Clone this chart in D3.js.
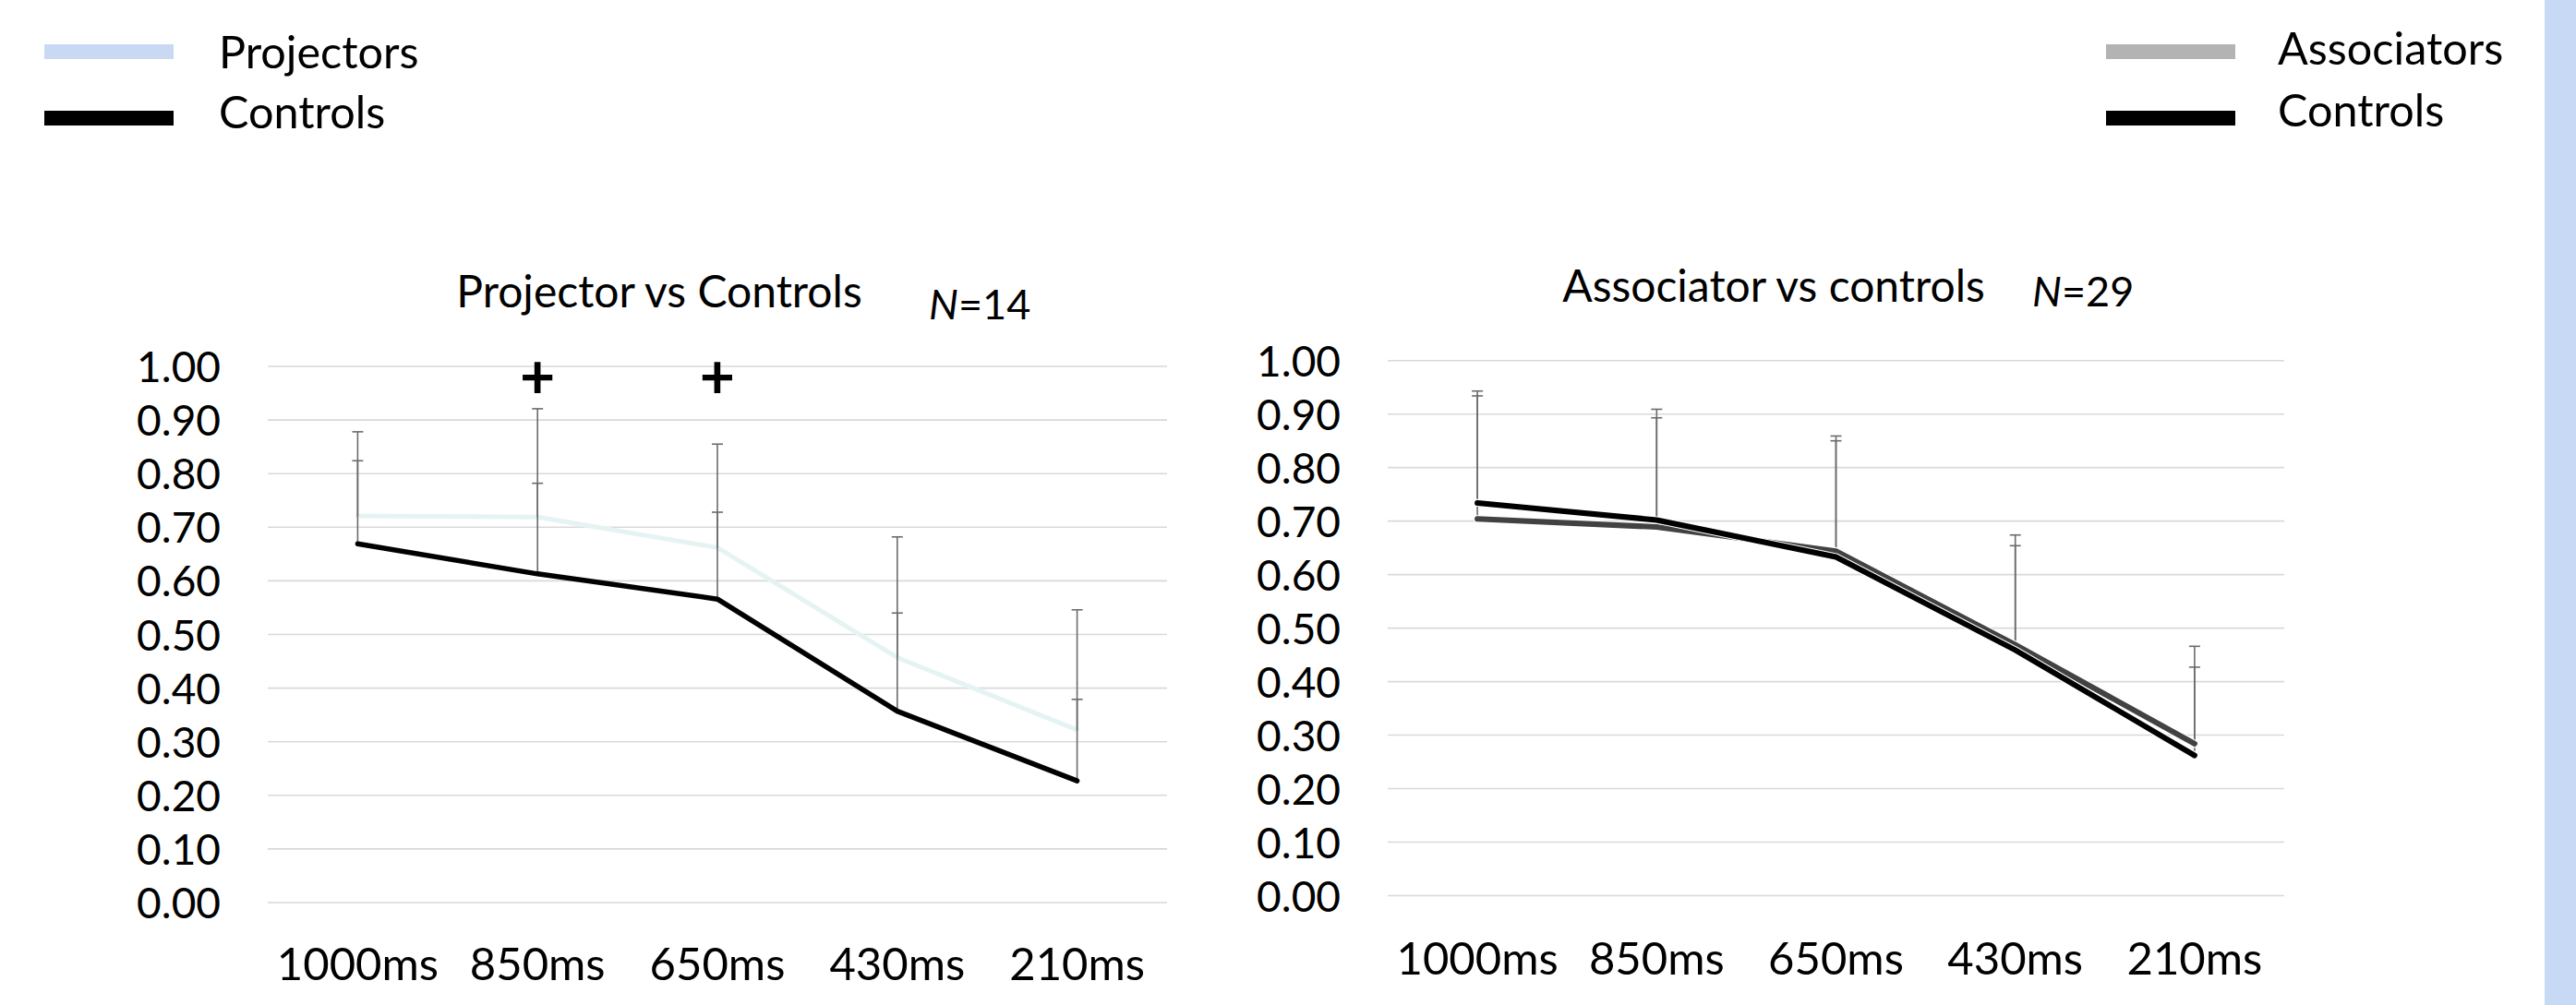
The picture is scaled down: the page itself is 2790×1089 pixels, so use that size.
<!DOCTYPE html>
<html>
<head>
<meta charset="utf-8">
<script src="https://cdn.jsdelivr.net/npm/d3@7"></script>
<style>
  html, body { margin: 0; padding: 0; background: #ffffff; }
  svg { display: block; }
  text { font-family: Lato, "Open Sans", "Noto Sans", sans-serif; fill: #000; }
</style>
</head>
<body>
<svg id="chart" width="2790" height="1089"></svg>
<script>
// ---------------- DATA ----------------
const categories = ["1000ms", "850ms", "650ms", "430ms", "210ms"];
const yTickValues = [0, 0.1, 0.2, 0.3, 0.4, 0.5, 0.6, 0.7, 0.8, 0.9, 1.0];

// Left panel: Projector vs Controls (N=14)
const projectors      = [0.721, 0.719, 0.662, 0.457, 0.322];
const projectorsErr   = [0.157, 0.202, 0.193, 0.225, 0.224];
const projControls    = [0.669, 0.613, 0.566, 0.357, 0.227];
const projControlsErr = [0.155, 0.169, 0.162, 0.183, 0.152];
const projSignificance = ["", "+", "+", "", ""];

// Right panel: Associator vs controls (N=29)
const associators      = [0.704, 0.689, 0.644, 0.469, 0.284];
const associatorsErr   = [0.239, 0.220, 0.215, 0.205, 0.182];
const assocControls    = [0.734, 0.702, 0.633, 0.459, 0.262];
const assocControlsErr = [0.200, 0.191, 0.217, 0.195, 0.165];

const leftTitle = "Projector vs Controls";
const leftN = "14";
const rightTitle = "Associator vs controls";
const rightN = "29";
const leftLegend = ["Projectors", "Controls"];
const rightLegend = ["Associators", "Controls"];

// ---------------- DRAW ----------------
const svg = d3.select("#chart");

// right-edge decorative strip
svg.append("rect").attr("x", 2756).attr("y", 0).attr("width", 34).attr("height", 1089)
  .attr("fill", "#c8d9f5");

function drawPanel(p) {
  const x = d3.scaleBand().domain(categories).range(p.xRange).paddingInner(0).paddingOuter(0);
  const y = d3.scaleLinear().domain([0, 1]).range(p.yRange);
  const cx = c => x(c) + x.bandwidth() / 2;
  const g = svg.append("g");

  // gridlines
  g.selectAll("line.grid").data(yTickValues).join("line")
    .attr("class", "grid")
    .attr("x1", p.xRange[0]).attr("x2", p.xRange[1])
    .attr("y1", d => y(d)).attr("y2", d => y(d))
    .attr("stroke", "#d9d9d9").attr("stroke-width", 1.6);

  // y axis labels
  const yAxis = d3.axisLeft(y).tickValues(yTickValues).tickFormat(d3.format(".2f"))
    .tickSize(0).tickPadding(p.xRange[0] - p.yLabelRight);
  const ya = g.append("g").attr("transform", `translate(${p.xRange[0]},0)`).call(yAxis);
  ya.select(".domain").remove();
  ya.selectAll("text").attr("font-size", 46).attr("dy", "0.36em")
    .attr("font-family", "Lato, 'Open Sans', sans-serif").attr("fill", "#000");

  // x axis labels
  const xAxis = d3.axisBottom(x).tickSize(0);
  const xa = g.append("g").attr("transform", `translate(0,${p.yRange[0]})`).call(xAxis);
  xa.select(".domain").remove();
  xa.selectAll("text").attr("font-size", 49).attr("y", p.xLabelBaseline - p.yRange[0]).attr("dy", 0)
    .attr("font-family", "Lato, 'Open Sans', sans-serif").attr("fill", "#000");

  const line = d3.line().x((d, i) => cx(categories[i])).y(d => y(d));

  function drawErrors(vals, errs) {
    const eg = g.append("g");
    vals.forEach((v, i) => {
      const xc = cx(categories[i]);
      eg.append("line").attr("x1", xc).attr("x2", xc)
        .attr("y1", y(v)).attr("y2", y(v + errs[i]))
        .attr("stroke", "#6b6b6b").attr("stroke-width", 1.6);
      eg.append("line").attr("x1", xc - 6).attr("x2", xc + 6)
        .attr("y1", y(v + errs[i])).attr("y2", y(v + errs[i]))
        .attr("stroke", "#6b6b6b").attr("stroke-width", 1.6);
    });
  }
  function drawLine(vals, color, width, halo) {
    if (halo) {
      g.append("path").datum(vals).attr("d", line).attr("fill", "none")
        .attr("stroke", "#ffffff").attr("stroke-width", width + 2.2)
        .attr("stroke-linejoin", "round").attr("stroke-linecap", "round");
    }
    g.append("path").datum(vals).attr("d", line).attr("fill", "none")
      .attr("stroke", color).attr("stroke-width", width)
      .attr("stroke-linejoin", "round").attr("stroke-linecap", "round");
  }
  p.draw(drawErrors, drawLine);

  // significance marks
  if (p.signif) {
    g.selectAll("text.sig").data(p.signif).join("text")
      .attr("class", "sig")
      .attr("x", (d, i) => cx(categories[i]))
      .attr("y", p.signifY)
      .attr("text-anchor", "middle")
      .attr("font-size", 66).attr("font-weight", 700)
      .text(d => d);
  }

  // title
  g.append("text").attr("x", p.titleX).attr("y", p.titleY).attr("text-anchor", "middle")
    .attr("font-size", 48).text(p.title);
  const nt = g.append("text").attr("x", p.nX).attr("y", p.nY).attr("font-size", 45);
  nt.append("tspan").attr("font-style", "italic").text("N");
  nt.append("tspan").text("=" + p.n);
}

drawPanel({
  xRange: [290, 1264], yRange: [978, 397], yLabelRight: 239, xLabelBaseline: 1062,
  title: leftTitle, titleX: 714, titleY: 333, n: leftN, nX: 1006, nY: 346,
  signif: projSignificance, signifY: 432,
  draw: (drawErrors, drawLine) => {
    drawLine(projectors, "#e5f3f3", 5, false);
    drawErrors(projControls, projControlsErr);
    drawErrors(projectors, projectorsErr);
    drawLine(projControls, "#000000", 5.5, false);
  }
});

drawPanel({
  xRange: [1503, 2474], yRange: [970.5, 390.7], yLabelRight: 1452, xLabelBaseline: 1056,
  title: rightTitle, titleX: 1921, titleY: 327, n: rightN, nX: 2201, nY: 332,
  signif: null,
  draw: (drawErrors, drawLine) => {
    drawErrors(associators, associatorsErr);
    drawErrors(assocControls, assocControlsErr);
    drawLine(associators, "#424242", 6, true);
    drawLine(assocControls, "#000000", 6, true);
  }
});

// legends
function drawLegend(items, colors, swatchX, textX, rows) {
  const lg = svg.append("g");
  items.forEach((t, i) => {
    lg.append("rect").attr("x", swatchX).attr("y", rows[i].sy).attr("width", 140).attr("height", 16)
      .attr("fill", colors[i]);
    lg.append("text").attr("x", textX).attr("y", rows[i].ty).attr("font-size", 48.5).text(t);
  });
}
drawLegend(leftLegend, ["#c9d9f4", "#000000"], 48, 237,
  [{ sy: 48, ty: 74 }, { sy: 120, ty: 139 }]);
drawLegend(rightLegend, ["#b3b3b3", "#000000"], 2281, 2467,
  [{ sy: 48, ty: 70 }, { sy: 120, ty: 137 }]);
</script>
</body>
</html>
